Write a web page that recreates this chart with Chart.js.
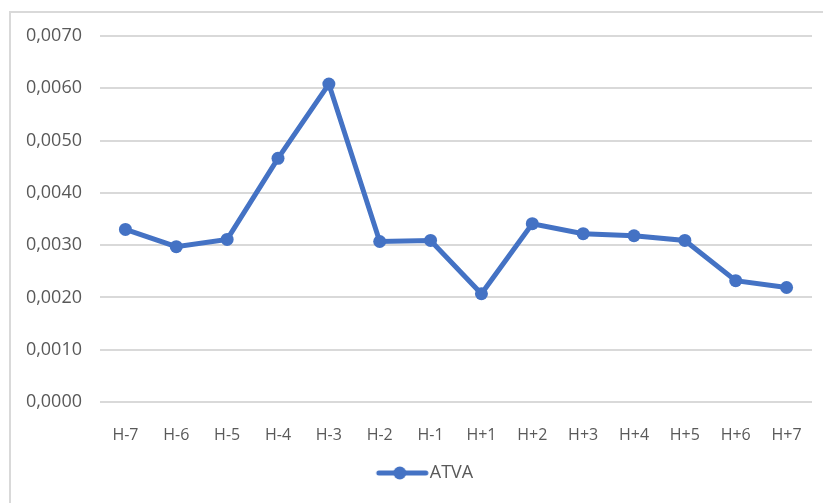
<!DOCTYPE html>
<html>
<head>
<meta charset="utf-8">
<title>ATVA</title>
<script src="https://cdn.jsdelivr.net/npm/chart.js@4"></script>
<style>
    html, body { margin: 0; padding: 0; background: #fff; }
    #wrap { position: relative; width: 823px; height: 503px; overflow: hidden; }
    #frame {
        position: absolute; left: 9px; top: 11px; right: -5px; bottom: -5px;
        border-top: 2px solid #d9d9d9; border-left: 2px solid #d9d9d9;
    }
    canvas { position: absolute; left: 0; top: 0; }
</style>
</head>
<body>
<div id="wrap">
    <div id="frame"></div>
    <canvas id="atvaChart" width="823" height="503"></canvas>
</div>
<script>
// Days around the event
const days = ['H-7', 'H-6', 'H-5', 'H-4', 'H-3', 'H-2', 'H-1', 'H+1', 'H+2', 'H+3', 'H+4', 'H+5', 'H+6', 'H+7'];
// Average abnormal trading volume
const atva = [0.00330, 0.00297, 0.00311, 0.00466, 0.00608, 0.00307, 0.00309, 0.00207, 0.00341, 0.00322, 0.00318, 0.00309, 0.00232, 0.00219];
// Y axis ticks
const yTicks = [0, 0.001, 0.002, 0.003, 0.004, 0.005, 0.006, 0.007];

const lineColor = '#4472C4';
const textColor = '#595959';

// Legend symbol: short line with a dot, drawn in the right half of a wide
// box so the whole legend entry sits a bit right of centre
function legendSymbol() {
    const c = document.createElement('canvas');
    c.width = 100;
    c.height = 14;
    const g = c.getContext('2d');
    g.strokeStyle = lineColor;
    g.lineWidth = 5;
    g.lineCap = 'round';
    g.beginPath();
    g.moveTo(49, 7);
    g.lineTo(96, 7);
    g.stroke();
    g.fillStyle = lineColor;
    g.beginPath();
    g.arc(70, 7, 6.5, 0, Math.PI * 2);
    g.fill();
    return c;
}
const symbol = legendSymbol();

document.addEventListener('DOMContentLoaded', function() {
    new Chart(document.getElementById('atvaChart'), {
        type: 'line',
        data: {
            labels: days,
            datasets: [{
                label: 'ATVA',
                data: atva,
                borderColor: lineColor,
                backgroundColor: lineColor,
                borderWidth: 5,
                pointRadius: 6.5,
                pointBackgroundColor: lineColor,
                pointBorderWidth: 0,
                tension: 0,
                fill: false
            }]
        },
        options: {
            responsive: false,
            animation: false,
            layout: { padding: { top: 36, right: 11, left: 0, bottom: 11 } },
            plugins: {
                tooltip: { enabled: false },
                legend: {
                    position: 'bottom',
                    labels: {
                        usePointStyle: true,
                        pointStyle: symbol,
                        pointStyleWidth: 82,
                        boxHeight: 14,
                        color: textColor,
                        font: { family: 'Open Sans', size: 18 },
                        padding: 10,
                        generateLabels: function(chart) {
                            const items = Chart.defaults.plugins.legend.labels.generateLabels(chart);
                            items.forEach(it => { it.pointStyle = symbol; });
                            return items;
                        }
                    }
                }
            },
            scales: {
                x: {
                    offset: true,
                    grid: { display: false },
                    border: { display: false },
                    ticks: {
                        color: textColor,
                        font: { family: 'Open Sans', size: 16 },
                        padding: 16,
                        maxRotation: 0,
                        autoSkip: false
                    },
                    afterFit: function(scale) { scale.height = 52; }
                },
                y: {
                    min: 0,
                    max: 0.007,
                    border: { display: false },
                    grid: { color: '#d9d9d9', lineWidth: 2, drawTicks: false },
                    afterBuildTicks: function(scale) {
                        scale.ticks = yTicks.map(v => ({ value: v }));
                    },
                    ticks: {
                        color: textColor,
                        font: { family: 'Open Sans', size: 18 },
                        padding: 18,
                        callback: function(v) { return v.toFixed(4).replace('.', ','); }
                    },
                    afterFit: function(scale) { scale.width = 100; }
                }
            }
        }
    });
});
</script>
</body>
</html>
